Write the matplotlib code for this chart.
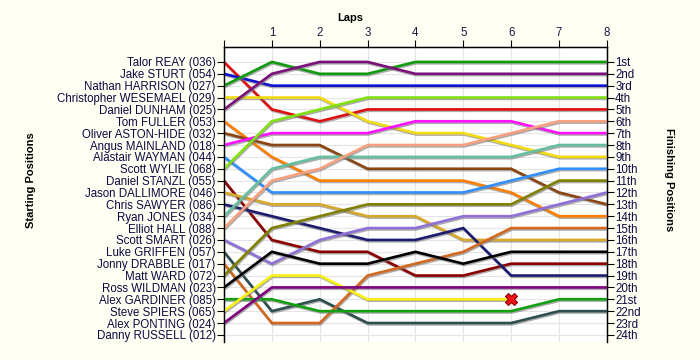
#lap chart: position of each driver after every lap
import numpy as np
import matplotlib.pyplot as plt
import matplotlib.patheffects as pe

plt.rcParams['font.family'] = ['Liberation Sans', 'DejaVu Sans']

drivers = ['Talor REAY (036)', 'Jake STURT (054)', 'Nathan HARRISON (027)',
           'Christopher WESEMAEL (029)', 'Daniel DUNHAM (025)', 'Tom FULLER (053)',
           'Oliver ASTON-HIDE (032)', 'Angus MAINLAND (018)', 'Alastair WAYMAN (044)',
           'Scott WYLIE (068)', 'Daniel STANZL (055)', 'Jason DALLIMORE (046)',
           'Chris SAWYER (086)', 'Ryan JONES (034)', 'Elliot HALL (088)',
           'Scott SMART (026)', 'Luke GRIFFEN (057)', 'Jonny DRABBLE (017)',
           'Matt WARD (072)', 'Ross WILDMAN (023)', 'Alex GARDINER (085)',
           'Steve SPIERS (065)', 'Alex PONTING (024)', 'Danny RUSSELL (012)']
finish_labels = ['1st', '2nd', '3rd', '4th', '5th', '6th', '7th', '8th', '9th', '10th',
                 '11th', '12th', '13th', '14th', '15th', '16th', '17th', '18th', '19th',
                 '20th', '21st', '22nd', '23rd', '24th']
laps = [0, 1, 2, 3, 4, 5, 6, 7, 8]

# position at start (lap 0) and after each lap; None = not running
positions = [
    [1, 5, 6, 5, 5, 5, 5, 5, 5],
    [2, 3, 3, 3, 3, 3, 3, 3, 3],
    [3, 1, 2, 2, 1, 1, 1, 1, 1],
    [4, 4, 4, 6, 7, 7, 8, 9, 9],
    [5, 2, 1, 1, 2, 2, 2, 2, 2],
    [6, 9, 11, 11, 11, 11, 12, 14, 14],
    [7, 8, 8, 10, 10, 10, 10, 12, 13],
    [8, 7, 7, 7, 6, 6, 6, 7, 7],
    [9, 12, 12, 12, 12, 12, 11, 10, 10],
    [10, 6, 5, 4, 4, 4, 4, 4, 4],
    [11, 16, 17, 17, 19, 19, 18, 18, 18],
    [12, 13, 13, 14, 14, 16, 16, 16, 16],
    [13, 14, 15, 16, 16, 15, 19, 19, 19],
    [14, 10, 9, 9, 9, 9, 9, 8, 8],
    [15, 11, 10, 8, 8, 8, 7, 6, 6],
    [16, 18, 16, 15, 15, 14, 14, 13, 12],
    [17, 22, 21, 23, 23, 23, 23, 22, 22],
    [18, 23, 23, 19, 18, 17, 15, 15, 15],
    [19, 15, 14, 13, 13, 13, 13, 11, 11],
    [20, 17, 18, 18, 17, 18, 17, 17, 17],
    [21, 21, 22, 22, 22, 22, 22, 21, 21],
    [22, 19, 19, 21, 21, 21, 21, None, None],
    [23, 20, 20, 20, 20, 20, 20, 20, 20],
    [None] * 9,
]
colors = ['#e01010', '#1010d0', '#109a10', '#f2dc10', '#7a107a', '#ff8000',
          '#8b4513', '#ff10ff', '#3090ff', '#80e010', '#8b0000', '#d8a828',
          '#1c1c70', '#66c0a0', '#f8a080', '#9070d8', '#2f4f4f', '#d2691e',
          '#808000', '#000000', '#10a010', '#f8f010', '#800080', '#888888']
retired = {'Steve SPIERS (065)': 6}

fig = plt.figure(figsize=(7, 3.6), dpi=100, facecolor='#fffff4')
ax = fig.add_axes([0.32, 0.05, 0.547, 0.8195])
ax.set_facecolor('white')

shadow = [pe.SimpleLineShadow(offset=(0.6, -1.0), shadow_color='#777777', alpha=0.6),
          pe.Normal()]
for name, pos, c in zip(drivers, positions, colors):
    xs = [l for l, p in zip(laps, pos) if p is not None]
    ys = [p for p in pos if p is not None]
    if not xs:
        continue
    ax.plot(xs, ys, color=c, lw=1.9, solid_joinstyle='miter', path_effects=shadow, zorder=3)
    if name in retired:
        lap = retired[name]
        ax.plot(lap, pos[lap], marker='X', ms=8, color='#ff1010', mec='#800000',
                mew=0.8, zorder=5)

ax.set_xlim(0, 8)
ax.set_ylim(24.6, -0.26)
ax.set_yticks(range(1, 25))
ax.set_yticklabels(drivers, fontsize=8.3, color='#0a0a40')
ax.set_xticks(laps)
ax.set_xticklabels([''] + [str(l) for l in laps[1:]], fontsize=8.3, color='#2a1040')
ax.xaxis.tick_top()
ax.tick_params(axis='x', length=5, width=0.8, pad=1)
ax.tick_params(axis='y', length=5, width=0.8, pad=1)
ax.grid(True, color='#e4e4e4', lw=0.8, zorder=0)
ax.set_axisbelow(True)
for s in ['bottom']:
    ax.spines[s].set_visible(False)
for s in ['left', 'top', 'right']:
    ax.spines[s].set_linewidth(1.0)

ax2 = ax.twinx()
ax2.set_ylim(ax.get_ylim())
ax2.set_yticks(range(1, 25))
ax2.set_yticklabels(finish_labels, fontsize=8.3, color='#0a0a40')
ax2.tick_params(axis='y', length=5, width=0.8, pad=1)
ax2.spines['bottom'].set_visible(False)

fig.text(0.5, 0.95, 'Laps', ha='center', va='center', fontsize=8, fontweight='bold')
fig.text(0.045, 0.5, 'Starting Positions', rotation=90, ha='center', va='center',
         fontsize=8, fontweight='bold')
fig.text(0.955, 0.5, 'Finishing Positions', rotation=-90, ha='center', va='center',
         fontsize=8, fontweight='bold')

fig.savefig('out.png', dpi=100, facecolor=fig.get_facecolor())
